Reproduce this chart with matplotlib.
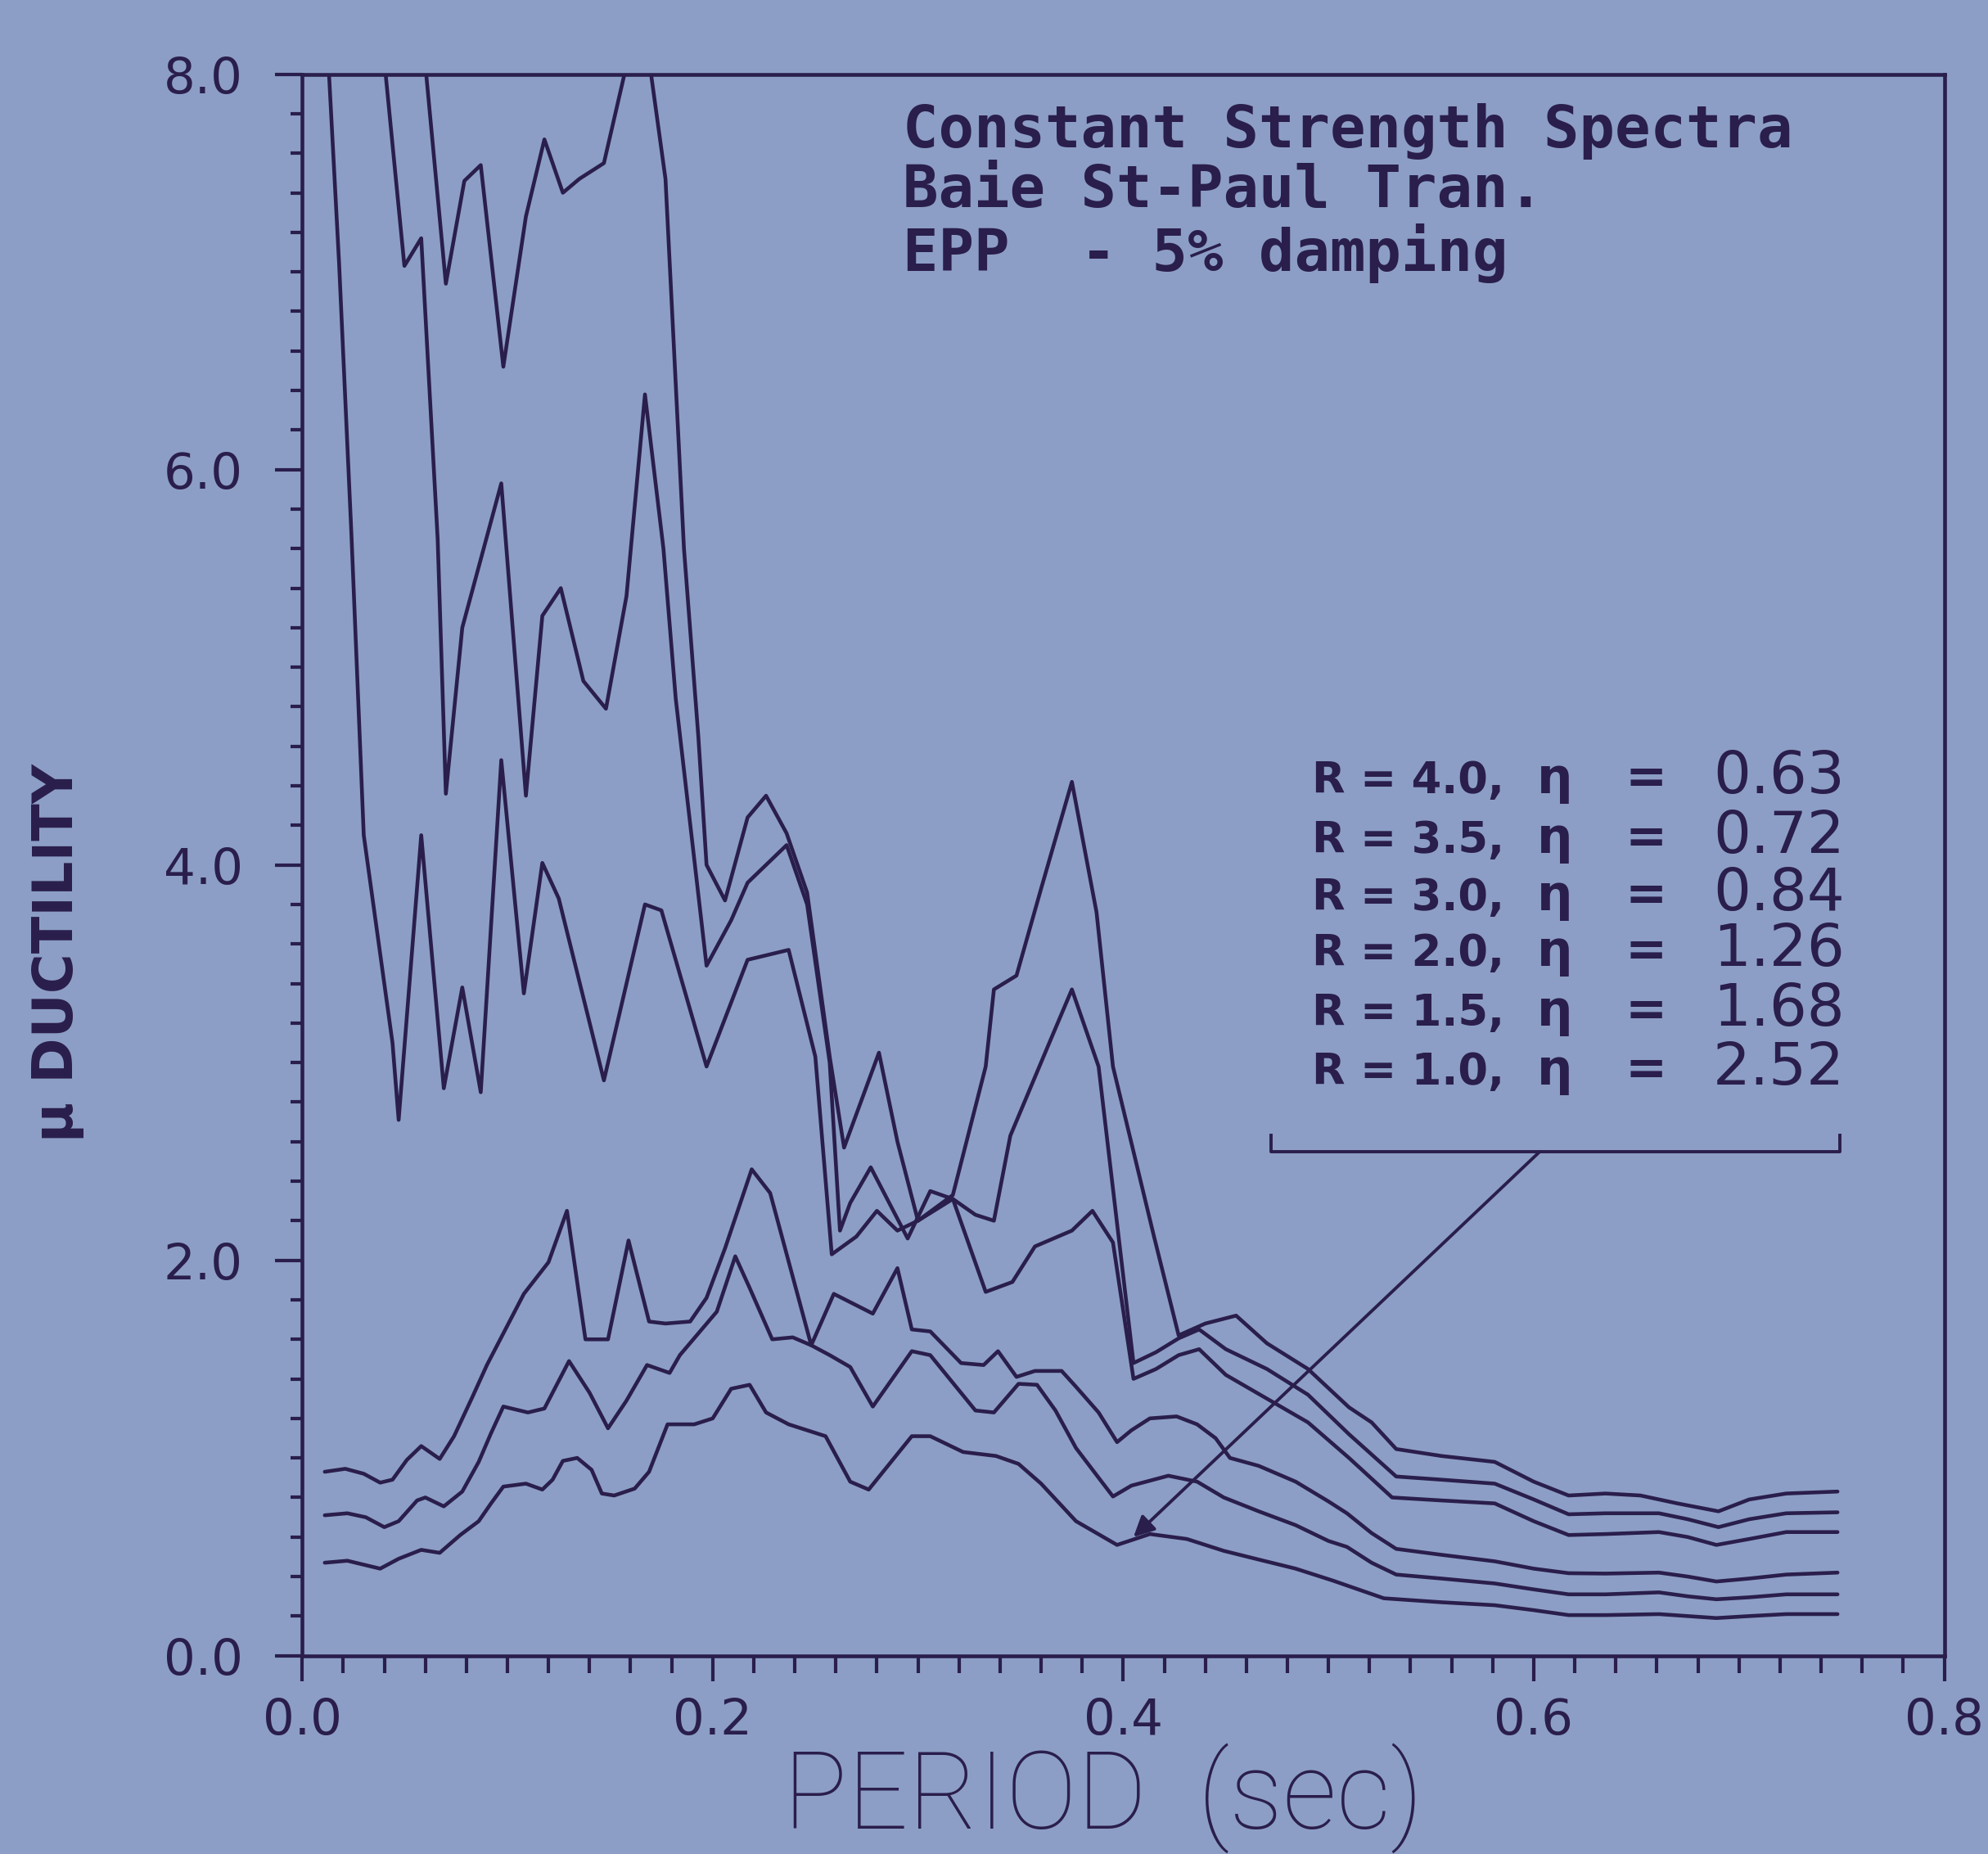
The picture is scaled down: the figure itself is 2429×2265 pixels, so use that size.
import matplotlib
matplotlib.use("Agg")
import matplotlib.pyplot as plt
from matplotlib.ticker import MultipleLocator

# ---------------- data ----------------
# values above 8.0 are off-chart (clipped by the frame)
period_r40 = [0.010, 0.055, 0.070, 0.079, 0.087, 0.098, 0.109, 0.118, 0.127, 0.135, 0.147,
              0.157, 0.162, 0.177, 0.186, 0.193, 0.197, 0.206, 0.217, 0.226, 0.236, 0.246,
              0.257, 0.264, 0.281, 0.290, 0.300, 0.317, 0.333, 0.337, 0.348, 0.360, 0.375,
              0.387, 0.395, 0.415, 0.427, 0.440, 0.455, 0.470, 0.490, 0.510, 0.521, 0.533,
              0.555, 0.581, 0.600, 0.617, 0.635, 0.652, 0.670, 0.690, 0.705, 0.723, 0.748]
duct_r40 = [8.6, 8.6, 6.94, 7.46, 7.54, 6.52, 7.28, 7.67, 7.40, 7.47, 7.55,
            8.0, 8.6, 7.47, 5.60, 4.65, 4.00, 3.82, 4.24, 4.35, 4.16, 3.86,
            3.03, 2.57, 3.05, 2.60, 2.20, 2.33, 2.98, 3.37, 3.44, 3.88, 4.42,
            3.76, 2.98, 2.12, 1.62, 1.68, 1.72, 1.58, 1.45, 1.256, 1.18, 1.045,
            1.01, 0.98, 0.88, 0.81, 0.82, 0.81, 0.77, 0.73, 0.79, 0.82, 0.83]

period_r35 = [0.010, 0.035, 0.0498, 0.058, 0.066, 0.070, 0.078, 0.097, 0.109, 0.117, 0.126,
              0.137, 0.148, 0.158, 0.167, 0.176, 0.182, 0.197, 0.209, 0.217, 0.236, 0.246,
              0.257, 0.262, 0.267, 0.277, 0.295, 0.306, 0.317, 0.328, 0.337, 0.345, 0.364,
              0.375, 0.388, 0.405, 0.416, 0.427, 0.437, 0.450, 0.470, 0.490, 0.510, 0.533,
              0.555, 0.581, 0.600, 0.617, 0.635, 0.661, 0.675, 0.690, 0.705, 0.723, 0.748]
duct_r35 = [8.6, 8.6, 7.03, 7.17, 5.65, 4.36, 5.20, 5.93, 4.35, 5.26, 5.40,
            4.93, 4.79, 5.36, 6.38, 5.60, 4.84, 3.49, 3.72, 3.91, 4.10, 3.80,
            3.00, 2.15, 2.29, 2.47, 2.11, 2.35, 2.31, 2.23, 2.20, 2.63, 3.10,
            3.37, 2.98, 1.48, 1.535, 1.605, 1.65, 1.55, 1.45, 1.32, 1.12, 0.906,
            0.89, 0.87, 0.79, 0.715, 0.72, 0.72, 0.69, 0.65, 0.69, 0.72, 0.725]

period_r30 = [0.010, 0.018, 0.024, 0.030, 0.044, 0.047, 0.058, 0.069, 0.078, 0.087, 0.097,
              0.108, 0.117, 0.125, 0.147, 0.167, 0.175, 0.197, 0.217, 0.237, 0.250, 0.258,
              0.270, 0.280, 0.290, 0.300, 0.317, 0.333, 0.346, 0.357, 0.375, 0.385, 0.395,
              0.405, 0.416, 0.427, 0.437, 0.450, 0.470, 0.490, 0.510, 0.531, 0.555, 0.581,
              0.600, 0.617, 0.635, 0.661, 0.675, 0.689, 0.705, 0.723, 0.748]
duct_r30 = [8.6, 7.04, 5.67, 4.15, 3.10, 2.71, 4.15, 2.87, 3.38, 2.85, 4.53,
            3.35, 4.01, 3.83, 2.91, 3.80, 3.77, 2.98, 3.52, 3.57, 3.03, 2.03,
            2.12, 2.25, 2.15, 2.20, 2.31, 1.84, 1.89, 2.07, 2.15, 2.25, 2.09,
            1.40, 1.45, 1.52, 1.55, 1.42, 1.30, 1.18, 1.00, 0.80, 0.785, 0.77,
            0.68, 0.61, 0.615, 0.625, 0.60, 0.56, 0.59, 0.625, 0.625]

period_r20 = [0.011, 0.021, 0.030, 0.038, 0.044, 0.051, 0.058, 0.067, 0.074, 0.083, 0.090,
              0.097, 0.108, 0.120, 0.129, 0.138, 0.149, 0.159, 0.169, 0.177, 0.189, 0.197,
              0.206, 0.219, 0.228, 0.248, 0.259, 0.278, 0.290, 0.297, 0.306, 0.321, 0.332,
              0.339, 0.348, 0.357, 0.370, 0.377, 0.388, 0.397, 0.404, 0.413, 0.426, 0.436,
              0.445, 0.452, 0.466, 0.484, 0.500, 0.509, 0.521, 0.533, 0.555, 0.581, 0.600,
              0.617, 0.635, 0.661, 0.675, 0.689, 0.705, 0.723, 0.748]
duct_r20 = [0.93, 0.945, 0.92, 0.875, 0.89, 0.99, 1.06, 0.995, 1.11, 1.31, 1.47,
            1.61, 1.83, 1.99, 2.25, 1.60, 1.60, 2.10, 1.69, 1.68, 1.69, 1.81,
            2.06, 2.46, 2.34, 1.57, 1.83, 1.73, 1.96, 1.65, 1.64, 1.48, 1.47,
            1.54, 1.41, 1.44, 1.44, 1.36, 1.23, 1.08, 1.14, 1.20, 1.21, 1.17,
            1.10, 1.00, 0.96, 0.88, 0.78, 0.72, 0.62, 0.54, 0.51, 0.477, 0.44,
            0.417, 0.415, 0.42, 0.40, 0.375, 0.39, 0.41, 0.42]

period_r15 = [0.011, 0.022, 0.031, 0.040, 0.047, 0.056, 0.060, 0.069, 0.078, 0.086, 0.092,
              0.098, 0.110, 0.118, 0.124, 0.130, 0.140, 0.149, 0.158, 0.168, 0.179, 0.184,
              0.193, 0.202, 0.211, 0.218, 0.229, 0.239, 0.248, 0.257, 0.267, 0.278, 0.297,
              0.306, 0.328, 0.337, 0.349, 0.358, 0.367, 0.377, 0.388, 0.395, 0.404, 0.422,
              0.436, 0.449, 0.466, 0.484, 0.500, 0.509, 0.521, 0.533, 0.555, 0.581, 0.600,
              0.617, 0.635, 0.661, 0.675, 0.689, 0.705, 0.723, 0.748]
duct_r15 = [0.71, 0.72, 0.70, 0.65, 0.68, 0.785, 0.80, 0.755, 0.83, 0.98, 1.125,
            1.26, 1.23, 1.25, 1.37, 1.49, 1.33, 1.15, 1.29, 1.47, 1.43, 1.52,
            1.63, 1.74, 2.02, 1.86, 1.60, 1.61, 1.57, 1.52, 1.46, 1.26, 1.54,
            1.52, 1.24, 1.23, 1.375, 1.37, 1.24, 1.05, 0.90, 0.805, 0.86, 0.91,
            0.88, 0.80, 0.73, 0.66, 0.58, 0.55, 0.47, 0.41, 0.39, 0.365, 0.335,
            0.31, 0.31, 0.32, 0.30, 0.285, 0.295, 0.31, 0.31]

period_r10 = [0.011, 0.022, 0.038, 0.047, 0.058, 0.067, 0.077, 0.086, 0.092, 0.098, 0.109,
              0.117, 0.122, 0.127, 0.134, 0.141, 0.146, 0.152, 0.162, 0.169, 0.178, 0.191,
              0.200, 0.209, 0.218, 0.226, 0.237, 0.255, 0.267, 0.276, 0.297, 0.306, 0.322,
              0.338, 0.349, 0.360, 0.377, 0.397, 0.413, 0.431, 0.449, 0.466, 0.484, 0.502,
              0.527, 0.555, 0.581, 0.600, 0.617, 0.635, 0.661, 0.675, 0.689, 0.705, 0.723,
              0.748]
duct_r10 = [0.47, 0.48, 0.44, 0.49, 0.535, 0.52, 0.61, 0.68, 0.77, 0.855, 0.87,
            0.84, 0.89, 0.985, 1.00, 0.94, 0.82, 0.81, 0.845, 0.93, 1.17, 1.17,
            1.20, 1.35, 1.37, 1.23, 1.17, 1.11, 0.88, 0.84, 1.11, 1.11, 1.03,
            1.01, 0.97, 0.87, 0.68, 0.56, 0.615, 0.59, 0.53, 0.486, 0.44, 0.38,
            0.29, 0.27, 0.255, 0.23, 0.205, 0.205, 0.21, 0.20, 0.19, 0.20, 0.21,
            0.21]

legend_r = ["4.0", "3.5", "3.0", "2.0", "1.5", "1.0"]
legend_eta = ["0.63", "0.72", "0.84", "1.26", "1.68", "2.52"]

x_ticks = [0.0, 0.2, 0.4, 0.6, 0.8]
x_ticklabels = ["0.0", "0.2", "0.4", "0.6", "0.8"]
y_ticks = [0.0, 2.0, 4.0, 6.0, 8.0]
y_ticklabels = ["0.0", "2.0", "4.0", "6.0", "8.0"]

title_lines = ["Constant Strength Spectra", "Baie St-Paul Tran.", "EPP  - 5% damping"]

# ---------------- style ----------------
BG = "#8c9ec5"
INK = "#2a1e4c"
LW = 3.3

fig = plt.figure(figsize=(24.29, 22.65), dpi=100, facecolor=BG)
ax = fig.add_axes([0.152, 0.107, 0.826, 0.853], facecolor=BG)

series = [(period_r40, duct_r40), (period_r35, duct_r35), (period_r30, duct_r30),
          (period_r20, duct_r20), (period_r15, duct_r15), (period_r10, duct_r10)]
for p, d in series:
    ax.plot(p, d, color=INK, lw=LW, solid_joinstyle="round", solid_capstyle="round")

ax.set_xlim(0.0, 0.8)
ax.set_ylim(0.0, 8.0)

ax.set_xticks(x_ticks)
ax.set_xticklabels(x_ticklabels)
ax.set_yticks(y_ticks)
ax.set_yticklabels(y_ticklabels)
ax.xaxis.set_minor_locator(MultipleLocator(0.02))
ax.yaxis.set_minor_locator(MultipleLocator(0.2))

ax.tick_params(axis="x", which="major", direction="out", length=22, width=3,
               color=INK, labelcolor=INK, labelsize=44, pad=14, top=False)
ax.tick_params(axis="x", which="minor", direction="out", length=15, width=3,
               color=INK, top=False)
ax.tick_params(axis="y", which="major", direction="out", length=24, width=3,
               color=INK, labelcolor=INK, labelsize=44, pad=28, right=False)
ax.tick_params(axis="y", which="minor", direction="out", length=10, width=3,
               color=INK, right=False)
for s in ax.spines.values():
    s.set_color(INK)
    s.set_linewidth(LW)

# bracket under the legend block and pointer arrow
bracket_x = [0.472, 0.472, 0.749, 0.749]
bracket_y = [2.63, 2.55, 2.55, 2.63]
ax.plot(bracket_x, bracket_y, color=INK, lw=2.8, clip_on=False)
ax.annotate("", xy=(0.405, 0.60), xytext=(0.603, 2.55),
            arrowprops=dict(arrowstyle="-|>", color=INK, lw=2.8,
                            mutation_scale=38, shrinkA=0, shrinkB=0))

# title block (one multi-line text)
fig.text(0.454, 0.896, "\n".join(title_lines), family="DejaVu Sans Mono",
         fontsize=52, fontweight="bold", color=INK, ha="left", va="center",
         linespacing=1.08)

# legend block
base_y = [0.572, 0.540, 0.509, 0.479, 0.447, 0.415]
for r, eta, yb in zip(legend_r, legend_eta, base_y):
    fig.text(0.660, yb, f"R = {r},", fontsize=38, color=INK, ha="left", va="baseline",
             fontweight="bold")
    fig.text(0.782, yb, "\u03b7", fontsize=44, color=INK, ha="center", va="baseline",
             fontweight="bold")
    fig.text(0.828, yb, "=", fontsize=44, color=INK, ha="center", va="baseline",
             fontweight="bold")
    fig.text(0.928, yb, eta, fontsize=52, color=INK, ha="right", va="baseline")

# axis labels
fig.text(0.029, 0.486, "\u03bc DUCTILITY", rotation=90, fontsize=48, fontweight="bold",
         color=INK, ha="center", va="center")
fig.text(0.555, 0.014, "PERIOD  (sec)", family=["Roboto", "DejaVu Sans"], fontweight="light",
         fontsize=94, color=INK, ha="center", va="baseline")

fig.savefig("out.png", dpi=100, facecolor=BG)
